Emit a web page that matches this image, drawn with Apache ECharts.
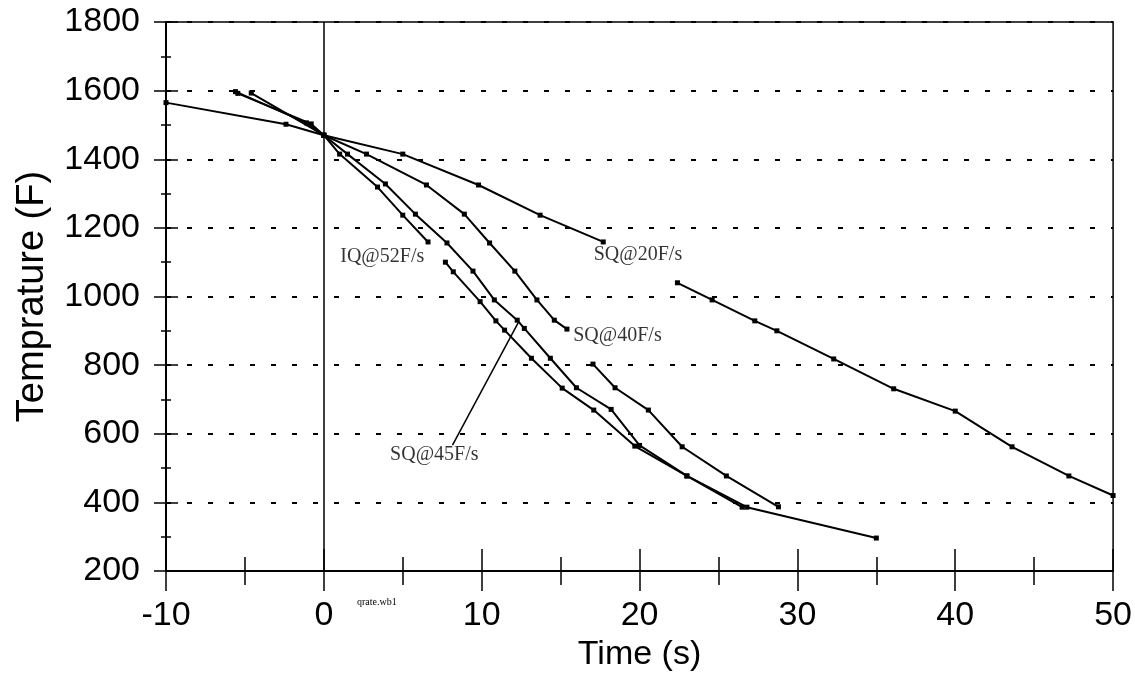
<!DOCTYPE html>
<html>
<head>
<meta charset="utf-8">
<script src="https://cdn.jsdelivr.net/npm/echarts@6/dist/echarts.min.js"></script>
<style>
  html, body { margin: 0; background: #fff; }
  #chart { width: 1135px; height: 699px; }
</style>
</head>
<body>
<div id="chart"></div>
<script>
// curves, [time s, temp F]; each curve is split where the
// original leaves a gap for its label
const sq20a = [[-10, 1565], [-2.4, 1502], [0, 1470], [5.0, 1415], [9.8, 1325], [13.7, 1237], [17.7, 1159]];
const sq20b = [[22.4, 1040], [24.6, 990], [27.3, 929], [28.7, 900], [32.3, 818], [36.1, 731], [40.0, 666], [43.6, 562], [47.2, 477], [50, 420]];
const iq52a = [[-5.6, 1597], [-1.1, 1506], [0, 1470], [1.0, 1415], [3.4, 1319], [5.0, 1237], [6.6, 1159]];
const iq52b = [[7.7, 1100], [8.2, 1072], [9.9, 985], [10.9, 929], [11.45, 902], [13.15, 820], [15.1, 733], [17.1, 669], [19.7, 564], [23.0, 477], [26.5, 386]];
const sq45 = [[-5.45, 1592], [-0.8, 1503], [0, 1470], [1.5, 1415], [3.9, 1328], [5.8, 1240], [7.8, 1156], [9.45, 1074], [10.8, 990], [12.25, 931], [12.7, 907], [14.35, 820], [16.0, 734], [18.2, 671], [20.0, 566], [23.0, 477], [26.8, 386], [35.0, 296]];
const sq40a = [[-4.6, 1593], [0, 1470], [2.7, 1415], [6.5, 1325], [8.9, 1240], [10.5, 1156], [12.1, 1074], [13.5, 990], [14.6, 931], [15.4, 905]];
const sq40b = [[17.05, 803], [18.45, 734], [20.56, 669], [22.7, 562], [25.5, 477], [28.8, 387]];

// curve labels and the pointer line from the SQ@45 label
const noteText = ['IQ@52F/s', 'SQ@20F/s', 'SQ@40F/s', 'SQ@45F/s'];
const noteX = [3.7, 19.9, 18.6, 7.0];
const noteY = [1115, 1121, 885, 538];
const leader45 = [[8.15, 567], [12.35, 927]];

const black = '#000';
const sans = 'Liberation Sans';

const chart = echarts.init(document.getElementById('chart'));

const curve = (data) => ({
  type: 'line',
  data: data,
  symbol: 'rect',
  symbolSize: 5,
  lineStyle: { color: black, width: 2 },
  itemStyle: { color: black },
  z: 3,
});

const xBase = {
  type: 'value',
  min: -10,
  max: 50,
  interval: 10,
  position: 'bottom',
  splitLine: { show: false },
};
const yBase = {
  type: 'value',
  min: 200,
  max: 1800,
  interval: 200,
  position: 'left',
};

const option = {
  animation: false,
  backgroundColor: '#fff',
  grid: {
    left: 166, right: 19, top: 22, bottom: 128,
    show: true, borderColor: black, borderWidth: 1.5,
  },
  xAxis: [
    {
      ...xBase,
      name: 'Time (s)',
      nameLocation: 'middle',
      nameGap: 64,
      nameTextStyle: { fontFamily: sans, fontSize: 34, color: black },
      axisLine: { onZero: false, lineStyle: { color: black, width: 2 } },
      axisTick: { length: 20, lineStyle: { color: black, width: 1.5 } },
      minorTick: { show: true, splitNumber: 2, length: 14, lineStyle: { color: black, width: 1.5 } },
      axisLabel: { fontFamily: sans, fontSize: 34, color: black, margin: 28 },
    },
    {
      ...xBase,
      axisLine: { show: false, onZero: false },
      axisTick: { inside: true, length: 22, lineStyle: { color: black, width: 1.5 } },
      minorTick: { show: true, splitNumber: 2, length: 14, lineStyle: { color: black, width: 1.5 } },
      axisLabel: { show: false },
    },
  ],
  yAxis: [
    {
      ...yBase,
      name: 'Temprature (F)',
      nameLocation: 'middle',
      nameGap: 114,
      nameTextStyle: { fontFamily: sans, fontSize: 38, color: black },
      axisLine: { show: true, onZero: false, lineStyle: { color: black, width: 2 } },
      axisTick: { show: true, length: 12, lineStyle: { color: black, width: 1.5 } },
      minorTick: { show: true, splitNumber: 2, length: 5, lineStyle: { color: black, width: 1.5 } },
      axisLabel: { fontFamily: sans, fontSize: 34, color: black, margin: 26, formatter: (v) => String(v) },
      splitLine: { show: true, lineStyle: { color: black, width: 2, type: [5, 16] } },
    },
    {
      ...yBase,
      axisLine: { show: false, onZero: false },
      axisTick: { show: true, inside: true, length: 12, lineStyle: { color: black, width: 1.5 } },
      minorTick: { show: true, splitNumber: 2, length: 5, lineStyle: { color: black, width: 1.5 } },
      axisLabel: { show: false },
      splitLine: { show: false },
    },
  ],
  series: [
    {
      ...curve(sq20a),
      markLine: {
        silent: true,
        symbol: ['none', 'none'],
        label: { show: false },
        lineStyle: { color: black, width: 1.5, type: 'solid' },
        data: [{ xAxis: 0 }],
      },
    },
    curve(sq20b),
    curve(iq52a),
    curve(iq52b),
    curve(sq45),
    curve(sq40a),
    curve(sq40b),
    {
      type: 'line',
      data: leader45,
      symbol: 'none',
      lineStyle: { color: black, width: 1.5 },
    },
    {
      type: 'scatter',
      data: noteText.map((t, i) => [noteX[i], noteY[i], t]),
      symbolSize: 1,
      itemStyle: { color: 'rgba(0,0,0,0)' },
      label: {
        show: true,
        position: 'inside',
        formatter: (p) => p.data[2],
        fontFamily: 'Liberation Serif',
        fontSize: 20,
        color: black,
      },
      z: 5,
    },
  ],
  graphic: [
    {
      type: 'text',
      left: 357,
      top: 597,
      style: { text: 'qrate.wb1', fontFamily: 'Liberation Serif', fontSize: 10, fill: black },
    },
  ],
};

chart.setOption(option);
</script>
</body>
</html>
